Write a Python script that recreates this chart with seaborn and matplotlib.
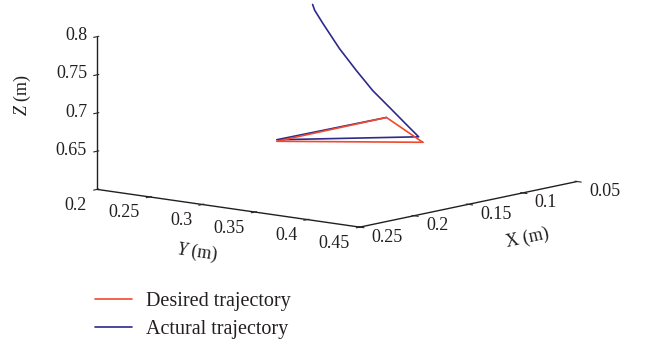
import numpy as np
import matplotlib
matplotlib.use("Agg")
import matplotlib.pyplot as plt
from matplotlib.transforms import offset_copy
from mpl_toolkits.mplot3d import proj3d
import seaborn as sns

sns.set_style("white")
plt.rcParams['font.family'] = ['Liberation Serif', 'DejaVu Serif']
plt.rcParams['mathtext.fontset'] = 'custom'
plt.rcParams['mathtext.rm'] = 'Liberation Serif'
plt.rcParams['mathtext.it'] = 'Liberation Serif:italic'

# desired trajectory (triangle), metres
x_des = [0.105, 0.157, 0.054, 0.105]
y_des = [0.360, 0.2748, 0.2727, 0.360]
z_des = [0.650, 0.650, 0.650, 0.650]

# actual trajectory: approach from the initial pose, then follows the triangle
x_act = [0.185, 0.1834, 0.1769, 0.1639, 0.1508, 0.1379, 0.1249, 0.1118, 0.102, 0.157, 0.054]
y_act = [0.3379, 0.3382, 0.3394, 0.3417, 0.3441, 0.3465, 0.3488, 0.3512, 0.353, 0.2748, 0.2727]
z_act = [0.850, 0.842, 0.8228, 0.7865, 0.7546, 0.7247, 0.6996, 0.6739, 0.6549, 0.652, 0.650]

x_ticks = [0.05, 0.1, 0.15, 0.2, 0.25]
x_ticklabels = ['0.05', '0.1', '0.15', '0.2', '0.25']
y_ticks = [0.2, 0.25, 0.3, 0.35, 0.4, 0.45]
y_ticklabels = ['0.2', '0.25', '0.3', '0.35', '0.4', '0.45']
z_ticks = [0.65, 0.7, 0.75, 0.8]
z_ticklabels = ['0.65', '0.7', '0.75', '0.8']

red = "#f0492e"
blue = "#2e2a8c"
txt = "#231f20"

fig = plt.figure(figsize=(6.51, 3.45), dpi=100)
ax = fig.add_axes([0.011, 0.196, 1.0, 0.95], projection='3d')
ax.set_proj_type('ortho')

ax.plot(x_act, y_act, z_act, color=blue, lw=1.2, label='Actural trajectory')
ax.plot(x_des, y_des, z_des, color=red, lw=1.2, label='Desired trajectory')

ax.set_xlim(0.05, 0.25)
ax.set_ylim(0.2, 0.45)
ax.set_zlim(0.6, 0.8)
ax.set_xticks(x_ticks)
ax.set_yticks(y_ticks)
ax.set_zticks(z_ticks)

ax.view_init(elev=10, azim=39.6)
ax.set_box_aspect((1, 1, 0.455), zoom=1.5)

for axis in (ax.xaxis, ax.yaxis, ax.zaxis):
    axis.pane.fill = False
    axis.pane.set_edgecolor((1, 1, 1, 0))
    axis.line.set_color(txt)
    axis.line.set_linewidth(1.0)
    axis.set_tick_params(which='both', label1On=False, label2On=False)
ax.grid(False)

fig.canvas.draw()
M = ax.get_proj()


def put_label(x, y, z, s, dx, dy, ha):
    # project the 3D tick position, then place a plain 2D text next to it
    px, py, _ = proj3d.proj_transform(x, y, z, M)
    ax.text2D(px, py, s, ha=ha, va='center', fontsize=fs, color=txt,
              transform=offset_copy(ax.transData, fig, x=dx, y=dy, units='dots'))


# tick labels placed like the MATLAB original
fs = 13
for v, s in zip(x_ticks, x_ticklabels):
    put_label(v, 0.45, 0.6, s, 12, -10, 'left')
for v, s in zip(y_ticks, y_ticklabels):
    put_label(0.25, v, 0.6, s, -10, -16, 'right')
for v, s in zip(z_ticks, z_ticklabels):
    put_label(0.25, 0.2, v, s, -10, 1, 'right')

fig.text(527 / 651, 1 - 238 / 345, 'X (m)', rotation=12, ha='center', va='center',
         fontsize=fs, color=txt)
fig.text(197 / 651, 1 - 252 / 345, r'$\it{Y}$ (m)', rotation=-8, ha='center', va='center',
         fontsize=fs, color=txt)
fig.text(22 / 651, 1 - 95 / 345, r'$\it{Z}$ (m)', rotation=90, ha='center', va='center',
         fontsize=fs, color=txt)

handles, labels = ax.get_legend_handles_labels()
fig.legend(handles[::-1], labels[::-1], loc='upper left', bbox_to_anchor=(0.118, 0.207),
           frameon=False, fontsize=14.5, handlelength=1.85, handletextpad=0.7,
           labelspacing=0.45, labelcolor=txt)

fig.savefig("out.png", dpi=100)
